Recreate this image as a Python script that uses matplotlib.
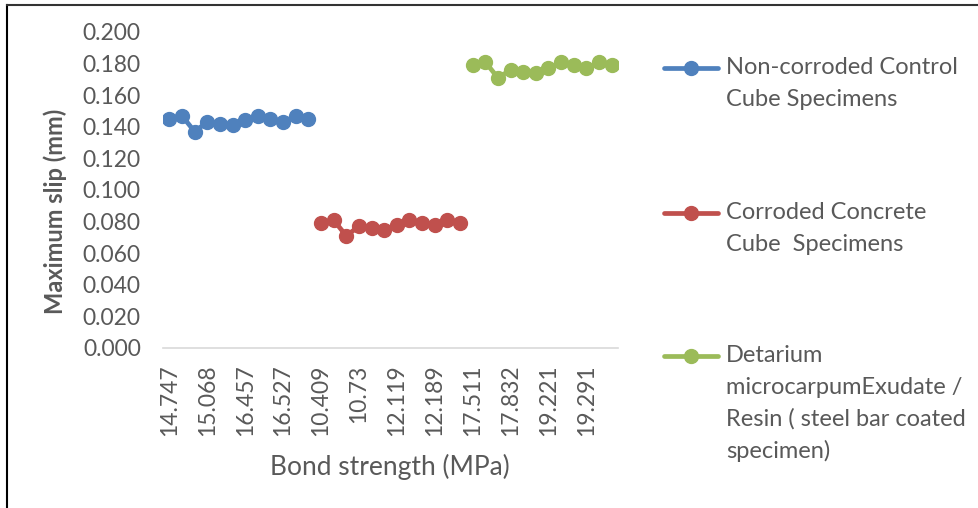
import numpy as np
import matplotlib
matplotlib.use("Agg")
import matplotlib.pyplot as plt
from matplotlib.lines import Line2D

plt.rcParams['font.family'] = ['Lato', 'DejaVu Sans']

# Maximum slip (mm) for each group of specimens
non_corroded = [0.145, 0.147, 0.137, 0.143, 0.142, 0.141, 0.144, 0.147, 0.145, 0.143, 0.147, 0.145]
corroded = [0.079, 0.081, 0.071, 0.077, 0.076, 0.075, 0.078, 0.081, 0.079, 0.078, 0.081, 0.079]
coated = [0.179, 0.181, 0.171, 0.176, 0.175, 0.174, 0.177, 0.181, 0.179, 0.177, 0.181, 0.179]

# Bond strength (MPa) labels shown on the category axis (every third category)
tick_labels = ['14.747', '15.068', '16.457', '16.527', '10.409', '10.73',
               '12.119', '12.189', '17.511', '17.832', '19.221', '19.291']

series_names = [
    "Non-corroded Control\nCube Specimens",
    "Corroded Concrete\nCube  Specimens",
    "Detarium\nmicrocarpumExudate /\nResin ( steel bar coated\nspecimen)",
]
colors = ['#4F81BD', '#C0504D', '#9BBB59']
text_color = '#595959'

groups = [non_corroded, corroded, coated]
n_per = len(non_corroded)
n_cat = n_per * len(groups)

W, H = 979, 508
fig = plt.figure(figsize=(W / 100, H / 100), dpi=100)
ax = fig.add_axes([163 / W, 1 - 348 / H, (618 - 163) / W, (348 - 32) / H])

for i, (vals, c) in enumerate(zip(groups, colors)):
    y = np.full(n_cat, np.nan)
    y[i * n_per:(i + 1) * n_per] = vals
    ax.plot(np.arange(n_cat), y, color=c, lw=3.4, marker='o', ms=10,
            solid_capstyle='round', solid_joinstyle='round')

ax.set_xlim(-0.5, n_cat - 0.5)
ax.set_ylim(0, 0.2)
ax.set_yticks(np.arange(0, 0.2001, 0.02))
ax.set_yticklabels([f"{v:.3f}" for v in np.arange(0, 0.2001, 0.02)])
ax.set_xticks(np.arange(0, n_cat, 3))
ax.set_xticklabels(tick_labels, rotation=90)
ax.tick_params(axis='y', length=0, pad=16, labelsize=16.5, labelcolor=text_color)
ax.tick_params(axis='x', length=0, pad=12, labelsize=16.5, labelcolor=text_color)
for s in ['top', 'right', 'left']:
    ax.spines[s].set_visible(False)
ax.spines['bottom'].set_color('#D9D9D9')
ax.spines['bottom'].set_linewidth(1.2)

fig.text(55 / W, 1 - 211 / H, 'Maximum slip (mm)', rotation=90, ha='center',
         va='center', fontsize=17, fontweight='bold', color=text_color)
fig.text(390 / W, 1 - 467 / H, 'Bond strength (MPa)', ha='center', va='center',
         fontsize=19, color=text_color)

# Legend drawn beside the plot area
entry_tops = [68, 213, 356]
line_gap = 31.5
for name, c, y0 in zip(series_names, colors, entry_tops):
    yf = 1 - y0 / H
    fig.add_artist(Line2D([664 / W, 718 / W], [yf, yf], color=c, lw=3.4,
                          solid_capstyle='round', transform=fig.transFigure))
    fig.add_artist(Line2D([691 / W], [yf], color=c, marker='o', ms=10,
                          transform=fig.transFigure))
    for k, line in enumerate(name.split('\n')):
        fig.text(726 / W, 1 - (y0 + k * line_gap) / H, line, ha='left',
                 va='center', fontsize=17, color=text_color)

# Chart frame edges
fig.add_artist(Line2D([7 / W, 7 / W], [0, 1 - 5 / H], color='black', lw=1.5,
                      transform=fig.transFigure))
fig.add_artist(Line2D([7 / W, 1], [1 - 5 / H, 1 - 5 / H], color='#333333', lw=1.5,
                      transform=fig.transFigure))

fig.savefig('out.png', dpi=100, facecolor='white')
